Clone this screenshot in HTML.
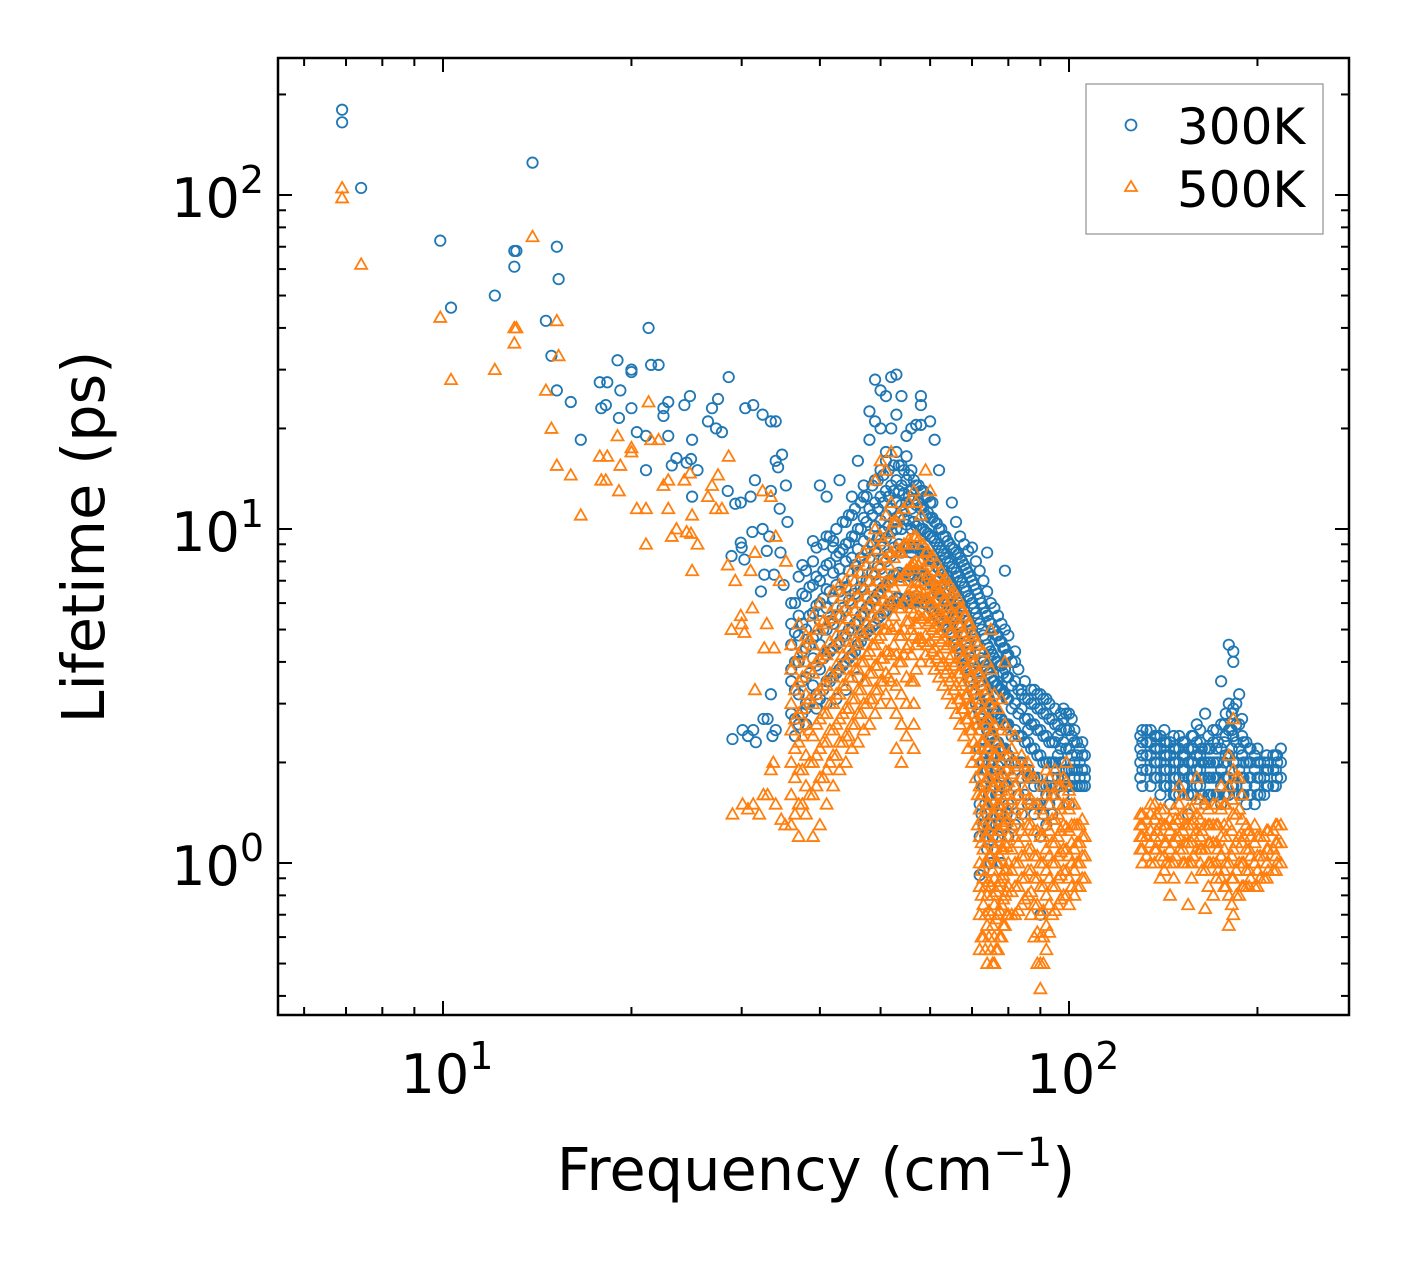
<!DOCTYPE html>
<html><head><meta charset="utf-8"><style>
html,body{margin:0;padding:0;background:#fff;}
svg{display:block;font-family:"DejaVu Sans","Liberation Sans",sans-serif;}
</style></head><body>
<svg id="chart" width="1408" height="1265" viewBox="0 0 1408 1265" xmlns="http://www.w3.org/2000/svg">
<rect x="0" y="0" width="1408" height="1265" fill="#fff"/>
<g id="marks300"></g>
<g id="marks500"></g>
<g id="axes"></g>
<rect x="278" y="58" width="1071" height="957" fill="none" stroke="#000" stroke-width="2.5"/>
<g>
<rect x="1086" y="84" width="237" height="150" fill="#fff" fill-opacity="0.8" stroke="#999" stroke-width="1.3"/>
<circle cx="1131" cy="125" r="5.5" fill="none" stroke="#1f77b4" stroke-width="1.8"/>
<text x="1177" y="144" font-size="50">300K</text>
<polygon points="1131,181 1137,191 1125,191" fill="none" stroke="#ff7f0e" stroke-width="1.8"/>
<text x="1177" y="207" font-size="50">500K</text>
</g>
<text x="816" y="1190" font-size="59" text-anchor="middle">Frequency (cm<tspan font-size="40" dy="-24">−1</tspan><tspan dy="24">)</tspan></text>
<text transform="translate(104,537) rotate(-90)" font-size="59" text-anchor="middle">Lifetime (ps)</text>
</svg>
<script>
// 300K sparse points [freq, lifetime]
const sparse300 = [[6.9,180],[6.9,165],[7.4,105],[9.9,73],[10.3,46],[12.1,50],[13.0,68],[13.0,61],[13.1,68],[13.9,125],[14.6,42],[15.2,70],[15.3,56],[14.9,33],[15.2,26],[16.0,24],[16.6,18.5],[17.8,27.5],[17.9,23],[18.3,27.5],[18.2,23.5],[19.0,32],[19.2,26],[19.1,21.5],[20.0,29.5],[20.0,30],[20.0,23],[20.4,19.5],[21.3,40],[21.1,19],[21.1,15],[21.5,31],[22.1,31],[22.5,21.8],[22.5,23],[22.9,24],[22.9,19],[23.2,15.5],[23.6,16.3],[24.3,23.5],[24.5,15.8],[24.8,25],[24.9,16.2],[25.0,18.5],[25.0,12.5],[25.5,15],[26.5,21],[26.9,23],[27.3,20],[27.5,24.5],[27.9,19.5],[28.6,28.5],[28.5,13],[28.9,8.3],[29.3,11.9],[29.9,9.1],[29.9,12],[30.0,8.8],[30.3,8.1],[30.4,23],[31.0,12.5],[31.2,9.8],[31.3,23.5],[31.5,14],[32.4,22],[32.4,10],[32.9,8.6],[33.4,21],[33.4,13],[34.0,21],[34.0,16],[34.3,15.3],[34.5,11.5],[34.8,16.7],[35.3,13.5],[35.5,10.5],[29.0,2.35],[30.1,2.5],[30.7,2.4],[31.3,2.5],[31.6,2.3],[32.5,2.7],[33.0,2.7],[33.4,3.2],[33.6,2.4],[34.0,2.5],[33.8,7.3],[32.6,7.3],[32.2,6.5],[33.2,9.5],[34.6,8.5],[35.0,6.8],[36.5,2.4],[38,2.6],[39.5,2.9],[41,3.0],[42.5,3.1],[44,3.3],[46,3.6]];
// 300K dense region: column frequencies and lifetimes
const colF300 = [36,37,38,39,40,41,42,43,44,45,46,47,48,49,50,51,52,53,54,55,56,57,58,59,60,61,62,63,64,65,66,67,68,69,70,71,72,73,74,75,76,77,78,79,80,82,84,86,88,90,92,94,96,98,100,102,104,106,130,133,135,138,140,143,145,148,150,153,155,158,160,163,165,168,170,173,175,178,180,183,187,190,192,195,198,202,205,208,212,215,218];
const colY300 = [
[3.5,4.5,5.2,6,2.8,3.8],[3.2,4.0,4.8,5.5,7.2,2.6],[3.0,3.6,4.4,5.0,6.3,7.5,2.9],[3.4,4.1,4.7,5.6,6.8,8.0,9.2],[3.1,3.8,4.5,5.3,6.0,7.0,13.5],[3.5,4.2,5.0,5.8,6.6,7.8,9.5,12.5],[3.6,4.4,5.2,6.2,7.4,8.8,9.2],[3.8,4.6,5.5,6.5,7.6,8.5,14],[4.0,4.8,5.7,6.7,8.0,9.0,10.5],[4.2,5.0,6.0,7.0,8.2,9.5,11,12.5],
[4.5,5.3,6.3,7.4,8.7,10,16],[4.8,5.6,6.6,7.8,9.2,10.8,12.5,13.5],[5.0,5.9,7.0,8.2,9.6,11.5,18.5,22.5],[5.2,6.2,7.3,8.6,10.2,12,14,28,21],[5.5,6.5,7.6,9.0,10.6,12.5,15,20,26],[5.7,6.8,8.0,9.4,11,13,16,25,17],[6.0,7.0,8.3,9.8,11.5,13.5,28.5,20],[6.2,7.3,8.6,10,12,14,17,29,22],[6.0,7.2,8.5,10,11.8,13.5,15.5,25],[6.2,7.4,8.8,10.3,12,14,16.5,19],
[6.0,7.2,8.5,10,11.5,13,15,20],[6.3,7.5,8.8,10.2,11.8,13.5,20.5],[6.2,7.4,8.6,10,11.5,13,20.5,25,23.5],[6.0,7.2,8.4,9.8,11,12.5],[5.8,7.0,8.2,9.5,10.8,12,21],[5.6,6.8,8,9.2,10.5,18.5],[5.4,6.5,7.6,8.8,10,15],[5.2,6.2,7.3,8.4,9.5],[5.0,6.0,7.0,8.0,9.2],[4.8,5.7,6.7,7.7,8.8,12],
[4.5,5.4,6.4,7.4,8.5,10.5],[4.2,5.1,6.0,7.0,8.2,9.5],[3.9,4.8,5.7,6.7,7.8,9.0],[3.6,4.4,5.3,6.3,7.4,8.6],[3.3,4.1,5.0,6.0,7.0,8.8],[3.0,3.8,4.6,5.6,6.6,8.0],[2.8,3.5,4.3,5.2,6.2,7.5,0.92,1.2,1.5,1.8,2.2],[2.6,3.3,4.0,4.8,5.8,7.0,0.95,1.3,1.7,2.0],[2.5,3.1,3.8,4.5,5.5,6.5,8.5,1.1,1.4,1.9],[2.4,3.0,3.6,4.3,5.2,6.0,1.0,1.3,1.6,2.1],
[2.3,2.9,3.5,4.1,5.0,5.8,1.1,1.5,1.8],[2.3,2.8,3.4,4.0,4.8,5.5,1.2,1.6,1.95],[2.2,2.7,3.3,3.9,4.6,5.2,1.0,1.4,1.8],[2.2,2.6,3.2,3.8,4.4,5.0,1.3,1.7,7.5],[2.1,2.6,3.1,3.6,4.2,4.8,1.2,1.5,1.9],[2.0,2.5,3.0,3.5,4.0,1.3,1.7,4.3],[2.0,2.4,2.9,3.3,1.4,1.8,3.2],[1.9,2.3,2.7,3.1,1.5,1.8,2.5],[1.8,2.2,2.6,3.0,1.4,1.7,3.3],[1.7,2.1,2.5,2.9,1.2,1.5,0.7,3.2],
[1.7,2.0,2.4,2.8,1.3,1.6,3.1],[1.6,2.0,2.3,2.7,1.4,1.8],[1.8,2.1,2.4,2.6,1.5],[1.8,2.0,2.3,2.7,2.9,1.6],[1.7,1.9,2.2,2.5,2.8,1.5],[1.8,2.0,2.3,2.5,1.9],[1.8,2.0,2.2,1.7],[1.8,1.9,2.1,1.7],
[1.8,2.0,2.2,2.4],[1.9,2.1,2.3,2.5],[1.7,1.9,2.1,2.3,2.5],[1.8,2.0,2.2,2.4],[1.8,2.0,2.2,2.4,1.6],[1.7,1.9,2.1,2.3],[1.7,1.9,2.1,2.3,1.5],[1.6,1.8,2.0,2.2],[1.6,1.8,2.0,2.2,2.4],[1.7,1.9,2.1,2.3],[1.6,1.8,2.0,2.2,1.4],[1.6,1.8,2.0,2.2,2.4],[1.7,1.9,2.1,2.3,2.6],[1.6,1.8,2.0,2.2],[1.5,1.8,2.0,2.2,2.8],[1.6,1.8,2.0,2.2],[1.6,1.8,2.0,2.3,2.5],[1.6,1.8,2.0,2.3],[1.5,1.7,1.9,2.2,2.6,3.5],[1.6,1.8,2.1,2.4,2.8],[1.6,1.8,2.1,2.5,3.0,4.5],[1.7,2.0,2.4,2.9,4.3,4.0],[1.6,1.9,2.2,2.6,3.2],[1.6,1.8,2.0,2.3],[1.5,1.7,2.0,2.3],[1.6,1.8,2.0,2.2],[1.5,1.7,1.9,2.1],[1.6,1.8,2.0],[1.6,1.8,2.0],[1.7,1.9,2.0],[1.7,1.9,2.1],[1.8,2.0,2.1],[1.8,2.0,2.2]];
// 300K additional dense-fill columns
const fillF300 = [36.5,37.5,38.5,39.5,40.5,41.5,42.5,43.5,44.5,45.5,46.5,47.5,48.5,49.5,50.5,51.5,52.5,53.5,54.5,55.5,56.5,57.5,58.5,59.5,60.5,61.5,62.5,63.5,64.5,65.5,66.5,67.5,68.5,69.5,70.5,71.5,72.5,73.5,74.5,75.5,76.5,77.5,78.5,79.5,81,83,85,87,89,91,93,95,97,99,101,103,105,131,137,142,147,152,157,162,167,172,177,182,185,189,194,200,207,214];
const fillY300 = [
[2.7,3.3,4.0,4.9,6.0],[2.8,3.5,4.3,5.2,6.4,7.8],[3.0,3.7,4.5,5.5,6.7],[3.2,3.9,4.8,5.9,7.2,8.8],[3.3,4.1,5.0,6.2,7.5,9.0],[3.5,4.3,5.3,6.5,7.9,9.5],[3.7,4.5,5.5,6.8,8.3,10],[3.9,4.8,5.8,7.1,8.7,10.5],[4.1,5.0,6.1,7.5,9.1,11],[4.3,5.2,6.4,7.8,9.5,11.5],
[4.6,5.5,6.7,8.2,10,12],[4.9,5.8,7.0,8.6,10.5,12.5],[5.1,6.1,7.4,9.0,11,13.5],[5.4,6.4,7.7,9.4,11.5,14],[5.6,6.7,8.1,9.8,12,14.5],[5.9,7.0,8.4,10.2,12.5,15],[6.1,7.3,8.8,10.6,13,15.5],[6.2,7.4,9.0,10.9,13,15.5],[6.1,7.3,8.8,10.7,12.8,15],[6.1,7.3,8.8,10.6,12.5,14.5],
[6.1,7.3,8.8,10.5,12.3,14],[6.1,7.3,8.7,10.3,12,13.5],[6.0,7.2,8.5,10,11.6,13],[5.9,7.0,8.3,9.7,11.2,12.5],[5.7,6.8,8.0,9.4,10.8,12],[5.5,6.5,7.7,9.0,10.4],[5.3,6.3,7.4,8.6,10],[5.1,6.0,7.1,8.2,9.5],[4.9,5.8,6.8,7.9,9.0],[4.6,5.5,6.5,7.6,8.7],
[4.4,5.2,6.2,7.2,8.4],[4.1,4.9,5.9,6.9,8.0],[3.8,4.6,5.5,6.5,7.6],[3.5,4.3,5.2,6.2,7.2],[3.2,4.0,4.8,5.8,6.8],[2.9,3.7,4.5,5.4,6.4],[2.7,3.4,4.1,5.0,6.0,1.4,1.7,2.0],[2.6,3.2,3.9,4.7,5.6,1.2,1.5,1.9,2.2],[2.5,3.1,3.7,4.4,5.3,1.3,1.6,2.0],[2.4,2.9,3.5,4.2,5.0,1.2,1.5,1.8,2.1],
[2.3,2.8,3.4,4.0,4.8,1.3,1.6,1.9],[2.2,2.7,3.3,3.9,4.6,1.4,1.7,2.0],[2.2,2.6,3.2,3.7,4.4,1.5,1.8],[2.1,2.6,3.1,3.6,4.2,1.4,1.7],[2.0,2.4,2.9,3.4,4.0,1.5,1.8],[2.0,2.4,2.8,3.3,3.8,1.6],[1.9,2.3,2.7,3.1,3.5,1.6],[1.8,2.2,2.6,3.0,3.3,1.5],[1.8,2.1,2.5,2.9,3.2,1.5],[1.7,2.0,2.4,2.8,3.1,1.4],
[1.7,2.0,2.3,2.7,3.0,1.5],[1.7,2.0,2.3,2.6,2.9],[1.7,2.0,2.2,2.5,2.8],[1.7,1.9,2.2,2.5,2.8],[1.7,1.9,2.1,2.4,2.7],[1.7,1.9,2.1,2.3],[1.7,1.9,2.1,2.3],
[1.7,1.9,2.1,2.3,2.5],[1.8,2.0,2.2,2.4],[1.7,1.9,2.1,2.3,2.5],[1.6,1.8,2.0,2.2,2.4],[1.7,1.9,2.1,2.3],[1.6,1.8,2.0,2.2,2.4],[1.7,1.9,2.1,2.3,2.5],[1.6,1.8,2.0,2.2,2.4],[1.6,1.8,2.0,2.2,2.5],[1.6,1.8,2.0,2.3,2.6],[1.7,1.9,2.2,2.5,2.8],[1.7,2.0,2.3,2.6,3.0],[1.6,1.8,2.1,2.4,2.7],[1.6,1.8,2.0,2.2],[1.6,1.8,2.0,2.2],[1.7,1.9,2.1],[1.7,1.9,2.1]];
// 500K sparse points
const sparse500 = [[6.9,105],[6.9,98],[7.4,62],[9.9,43],[10.3,28],[12.1,30],[13.0,40],[13.0,36],[13.1,40],[13.9,75],[14.6,26],[15.2,42],[15.3,33],[14.9,20],[15.2,15.5],[16.0,14.5],[16.6,11],[17.8,16.5],[17.9,14],[18.3,16.5],[18.2,14],[19.0,19],[19.2,15.5],[19.1,13],[20.0,17.5],[20.0,17],[20.4,11.5],[21.3,24],[21.1,11.5],[21.1,9],[21.5,18.5],[22.1,18.5],[22.5,13.5],[22.9,14],[22.9,11.5],[23.2,9.5],[23.6,10],[24.3,14],[24.5,9.8],[24.8,14.7],[24.9,9.7],[25.0,11],[25.0,7.5],[25.5,9],[26.5,12.5],[26.9,13.5],[27.3,11.5],[27.5,14.5],[27.9,11.5],[28.6,16.5],[28.5,7.8],[28.9,5],[29.3,7],[29.9,5.5],[30,5.2],[30.3,4.9],[31,7.5],[31.2,5.8],[31.5,8.5],[32.4,13],[32.9,5.2],[33.4,12.5],[34,9.5],[34.5,7],[35.3,8],[29,1.4],[30.1,1.5],[30.7,1.45],[31.3,1.5],[32.5,1.6],[33,1.6],[33.4,1.9],[34,1.5],[33.8,4.4],[32.6,4.4],[31.5,3.3],[32,1.4],[33.7,2.0],[34.7,1.35],[35.2,1.3]];
const colF500 = [36,37,38,39,40,41,42,43,44,45,46,47,48,49,50,51,52,53,54,55,56,57,58,59,60,61,62,63,64,65,66,67,68,69,70,71,72,73,74,75,76,77,78,79,80,82,84,86,88,90,92,94,96,98,100,102,104,106,130,133,135,138,140,143,145,148,150,153,155,158,160,163,165,168,170,173,175,178,180,183,187,190,192,195,198,202,205,208,212,215,218];
const colY500 = [
[1.3,1.6,2.0,2.5,3.0,3.8,4.5],[1.2,1.5,1.9,2.3,2.8,3.5,4.2,5.2],[1.4,1.7,2.1,2.6,3.2,4.0,4.8],[1.2,1.6,2.0,2.4,3.0,3.7,4.5,5.5],[1.3,1.8,2.2,2.7,3.3,4.1,5.0,6.0],[1.5,1.9,2.3,2.8,3.4,4.2,5.2],[1.7,2.1,2.5,3.0,3.6,4.4,5.4,6.5],[1.9,2.3,2.7,3.2,3.8,4.6,5.5,6.8],[2.0,2.4,2.9,3.4,4.0,4.8,5.8,7.0],[2.2,2.6,3.1,3.6,4.2,5.0,6.0,7.5],
[2.3,2.8,3.3,3.8,4.5,5.3,6.3,8.0],[2.5,3.0,3.5,4.0,4.8,5.6,6.6,8.5],[2.6,3.1,3.7,4.3,5.0,5.9,7.0,9.0],[2.8,3.3,3.9,4.5,5.3,6.2,7.4,10,14],[3.0,3.5,4.1,4.8,5.6,6.5,7.8,9.5,16],[3.2,3.7,4.3,5.0,5.9,6.9,8.2,11,15],[3.0,3.5,4.2,5.0,6.0,7.0,8.5,12,17],[2.2,2.8,3.4,4.2,5.1,6.1,7.3,8.8,10.5],[2.0,2.6,3.2,4.0,4.8,5.8,7.0,8.5],[2.4,3.0,3.6,4.4,5.3,6.3,7.5,9.0],
[3.5,4.2,5.0,5.8,6.7,7.8,9.0],[3.8,4.5,5.2,6.0,6.9,8.0,9.5,12],[4.0,4.7,5.4,6.2,7.0,8.0,11],[4.2,4.8,5.5,6.2,7.0,8.5,15],[4.0,4.6,5.3,6.0,6.8,8.0,13],[3.8,4.4,5.1,5.8,6.6,7.5],[3.6,4.2,4.9,5.6,6.4,7.2],[3.4,4.0,4.7,5.4,6.1,7.0],[3.2,3.8,4.5,5.2,5.9,6.6],[3.0,3.6,4.2,4.9,5.6,6.4],
[2.8,3.4,4.0,4.7,5.4,6.0],[2.6,3.1,3.7,4.4,5.1,5.8],[2.4,2.9,3.5,4.1,4.8,5.5],[2.2,2.7,3.2,3.8,4.5,5.2],[2.0,2.5,3.0,3.6,4.2,4.9],[1.8,2.2,2.7,3.3,3.9,4.6],[0.55,0.7,0.85,1.0,1.2,1.45,1.7,2.0,2.5,3.0,3.7],[0.6,0.75,0.9,1.1,1.3,1.6,1.9,2.3,2.8,3.5,4.3],[0.5,0.65,0.8,1.0,1.2,1.5,1.8,2.2,2.7,3.3,4.0],[0.55,0.7,0.85,1.05,1.3,1.6,1.9,2.4,3.0,3.8,5.0],
[0.5,0.6,0.75,0.9,1.1,1.4,1.7,2.1,2.6,3.2],[0.55,0.7,0.85,1.0,1.25,1.5,1.85,2.3,2.9],[0.6,0.75,0.9,1.1,1.35,1.65,2.0,2.5,3.1],[0.65,0.8,0.95,1.15,1.4,1.7,2.1,2.6,4.0],[0.7,0.85,1.0,1.2,1.45,1.75,2.1,2.5],[0.7,0.85,1.0,1.2,1.45,1.7,2.0,2.4],[0.75,0.9,1.05,1.25,1.5,1.8,2.1],[0.8,0.95,1.1,1.3,1.55,1.85,2.0],[0.6,0.75,0.9,1.05,1.25,1.5,1.8],[0.42,0.5,0.6,0.7,0.85,1.0,1.2,1.45],
[0.55,0.65,0.8,0.95,1.1,1.3,1.6,1.9],[0.7,0.85,1.0,1.15,1.35,1.6],[0.75,0.9,1.05,1.2,1.4,1.7],[0.8,0.95,1.1,1.3,1.5,1.8],[0.75,0.9,1.05,1.25,1.45,1.65],[0.8,0.95,1.1,1.3,1.5],[0.85,1.0,1.15,1.3],[0.9,1.05,1.2],
[1.1,1.2,1.3,1.4],[1.05,1.2,1.35],[1.0,1.15,1.25,1.4,1.5],[1.1,1.25,1.4],[1.05,1.2,1.3,1.45,0.9],[1.0,1.15,1.3],[1.0,1.1,1.25,1.35,0.8],[1.05,1.2,1.35],[1.1,1.2,1.35,1.5,1.7],[1.0,1.15,1.3],[1.0,1.15,1.3,1.45,0.75],[1.05,1.2,1.35],[1.1,1.25,1.4,1.55,1.8],[0.95,1.1,1.25],[0.95,1.1,1.3,1.5,0.73],[1.0,1.15,1.3],[1.0,1.15,1.3,1.5,0.8],[0.95,1.1,1.3],[0.9,1.05,1.2,1.45,1.7],[0.85,1.0,1.2,1.5],[0.65,0.8,1.0,1.3,1.7,2.1],[0.7,0.9,1.1,1.4,1.9,2.7],[0.8,1.0,1.2,1.45,1.8],[0.85,1.0,1.2],[0.85,0.95,1.1,1.3],[0.9,1.05,1.2],[0.85,1.0,1.15,1.3],[0.9,1.05,1.2],[0.9,1.05,1.2],[0.95,1.1,1.25],[0.95,1.1,1.25],[1.0,1.15,1.3],[1.0,1.15,1.3]];
// 500K additional dense-fill columns
const fillF500 = [36.5,37.5,38.5,39.5,40.5,41.5,42.5,43.5,44.5,45.5,46.5,47.5,48.5,49.5,50.5,51.5,52.5,53.5,54.5,55.5,56.5,57.5,58.5,59.5,60.5,61.5,62.5,63.5,64.5,65.5,66.5,67.5,68.5,69.5,70.5,71.5,72.5,73.5,74.5,75.5,76.5,77.5,78.5,79.5,81,83,85,87,89,91,93,95,97,99,101,103,105,131,137,142,147,152,157,162,167,172,177,182,185,189,194,200,207,214];
const fillY500 = [
[1.4,1.8,2.2,2.7,3.3,4.0],[1.5,1.9,2.4,2.9,3.6,4.4],[1.6,2.0,2.5,3.1,3.8,4.7],[1.7,2.1,2.6,3.2,4.0,5.0],[1.8,2.3,2.8,3.4,4.3,5.3],[2.0,2.5,3.0,3.7,4.6,5.6],[2.1,2.6,3.2,3.9,4.8,5.9],[2.3,2.8,3.4,4.2,5.1,6.3],[2.4,2.9,3.6,4.4,5.4,6.6],[2.6,3.1,3.8,4.6,5.7,7.0],
[2.8,3.3,4.0,4.9,6.0,7.4],[3.0,3.5,4.2,5.2,6.3,7.8],[3.1,3.7,4.5,5.5,6.7,8.2],[3.3,3.9,4.7,5.8,7.0,8.7],[3.5,4.1,5.0,6.1,7.4,9.2],[3.6,4.3,5.2,6.4,7.8,9.7],[3.8,4.5,5.5,6.7,8.2,10.5],[4.0,4.8,5.8,7.0,8.6,11],[4.2,5.0,6.0,7.3,9.0,11.5],[4.5,5.3,6.3,7.6,9.3,12],
[2.2,2.6,3.0,3.5,4.8,5.6,6.6,7.9,9.5,13],[4.7,5.5,6.5,7.8,9.3],[4.6,5.4,6.4,7.6,9.0],[4.5,5.2,6.2,7.3,8.6],[4.3,5.0,6.0,7.0,8.3],[4.1,4.8,5.7,6.7,7.9],[3.9,4.6,5.5,6.4,7.5],[3.7,4.4,5.2,6.1,7.1],[3.5,4.1,4.9,5.8,6.8],[3.3,3.9,4.6,5.5,6.5],
[3.1,3.7,4.4,5.2,6.2],[2.9,3.4,4.1,4.9,5.8],[2.7,3.2,3.8,4.6,5.5],[2.5,3.0,3.6,4.3,5.2],[2.3,2.8,3.3,4.0,4.8],[2.1,2.6,3.1,3.7,4.5,1.6,1.3],[0.6,0.8,0.95,1.15,1.35,1.6,1.9,2.3,2.8,3.4],[0.55,0.7,0.85,1.0,1.2,1.45,1.75,2.1,2.6,3.2],[0.6,0.72,0.88,1.05,1.25,1.5,1.8,2.2,2.7,3.0],[0.5,0.65,0.8,0.95,1.15,1.4,1.7,2.0,2.5],
[0.55,0.68,0.82,1.0,1.2,1.45,1.75,2.1],[0.6,0.72,0.88,1.05,1.25,1.5,1.8,2.2],[0.65,0.78,0.92,1.1,1.3,1.55,1.85],[0.7,0.82,0.96,1.12,1.33,1.6,1.9],[0.7,0.82,0.95,1.1,1.3,1.55,1.85,2.2],[0.72,0.85,1.0,1.15,1.35,1.6,1.95],[0.78,0.9,1.05,1.2,1.4,1.65,1.95],[0.7,0.82,0.95,1.1,1.3,1.55,1.8],[0.5,0.62,0.75,0.9,1.05,1.25,1.5],[0.5,0.6,0.72,0.85,1.0,1.2,1.4,1.7],
[0.62,0.75,0.9,1.05,1.25,1.5,1.8],[0.72,0.85,1.0,1.15,1.35,1.6,1.9],[0.78,0.92,1.08,1.25,1.45,1.7],[0.8,0.95,1.1,1.28,1.5,1.75,2.0],[0.85,1.0,1.15,1.3,1.5],[0.85,1.0,1.15,1.3],[0.9,1.05,1.2,1.35],
[1.0,1.1,1.2,1.3,1.4],[1.0,1.1,1.2,1.35,1.5],[0.95,1.05,1.15,1.3,1.45],[0.9,1.0,1.15,1.3,1.45],[1.0,1.1,1.25,1.4,1.6],[0.9,1.0,1.15,1.3,1.45],[1.0,1.1,1.2,1.35,1.55],[0.85,1.0,1.15,1.3,1.45],[0.9,1.0,1.15,1.3,1.5],[0.85,0.95,1.1,1.3,1.5],[0.75,0.9,1.05,1.25,1.55],[0.8,0.95,1.15,1.4,1.8],[0.85,1.0,1.15,1.35,1.6],[0.85,0.95,1.1,1.25],[0.85,0.95,1.05,1.2],[0.9,1.0,1.1,1.25],[0.95,1.05,1.15,1.3]];
const xTickLabels = ["1","2"];
const yTickLabels = ["0","1","2"];

const NS = "http://www.w3.org/2000/svg";
const X0 = 443, XDEC = 626;   // 10^1 at px 443, px per decade
const Y0 = 863, YDEC = 334;   // 10^0 at px 863
function xs(f){ return X0 + (Math.log10(f) - 1) * XDEC; }
function ys(v){ return Y0 - Math.log10(v) * YDEC; }

function expand(sparse, colF, colY, fillF, fillY){
  const out = sparse.slice();
  colF.forEach((f,i)=>colY[i].forEach(v=>out.push([f,v])));
  fillF.forEach((f,i)=>fillY[i].forEach(v=>out.push([f,v])));
  return out;
}
const g300 = document.getElementById('marks300');
expand(sparse300,colF300,colY300,fillF300,fillY300).forEach(p=>{
  const c = document.createElementNS(NS,'circle');
  c.setAttribute('cx', xs(p[0])); c.setAttribute('cy', ys(p[1])); c.setAttribute('r', 5.2);
  c.setAttribute('fill','none'); c.setAttribute('stroke','#1f77b4'); c.setAttribute('stroke-width','1.8');
  
  
  g300.appendChild(c);
});
const g500 = document.getElementById('marks500');
expand(sparse500,colF500,colY500,fillF500,fillY500).forEach(p=>{
  const x = xs(p[0]), y = ys(p[1]);
  const t = document.createElementNS(NS,'polygon');
  t.setAttribute('points', `${x},${y-6} ${x+6},${y+4.5} ${x-6},${y+4.5}`);
  t.setAttribute('fill','none'); t.setAttribute('stroke','#ff7f0e'); t.setAttribute('stroke-width','1.8');
  
  
  g500.appendChild(t);
});

// axes ticks
const ax = document.getElementById('axes');
function line(x1,y1,x2,y2,w){
  const l = document.createElementNS(NS,'line');
  l.setAttribute('x1',x1);l.setAttribute('y1',y1);l.setAttribute('x2',x2);l.setAttribute('y2',y2);
  l.setAttribute('stroke','#000');l.setAttribute('stroke-width',w);
  
  
  ax.appendChild(l);
}
const L=278,R=1349,T=58,B=1015;
[6,7,8,9,10,20,30,40,50,60,70,80,90,100,200].forEach(f=>{
  const major = (f===10||f===100);
  const len = major?14:8, x = xs(f);
  line(x,B,x,B-len,2); line(x,T,x,T+len,2);
});
[0.4,0.5,0.6,0.7,0.8,0.9,1,2,3,4,5,6,7,8,9,10,20,30,40,50,60,70,80,90,100,200].forEach(v=>{
  const major = (v===1||v===10||v===100);
  const len = major?14:8, y = ys(v);
  line(L,y,L+len,y,2); line(R,y,R-len,y,2);
});
function tickLabel(x,y,exp,anchor,name){
  const t = document.createElementNS(NS,'text');
  t.setAttribute('x',x); t.setAttribute('y',y); t.setAttribute('font-size','54'); t.setAttribute('text-anchor',anchor);
  t.innerHTML = `10<tspan font-size="38" dy="-24">${exp}</tspan>`;
  
  
  ax.appendChild(t);
}
xTickLabels.forEach(e=>tickLabel(xs(Math.pow(10,+e))+4,1093,e,'middle','x-tick-label'));
yTickLabels.forEach(e=>tickLabel(264,ys(Math.pow(10,+e))+22,e,'end','y-tick-label'));
</script>
</body></html>
